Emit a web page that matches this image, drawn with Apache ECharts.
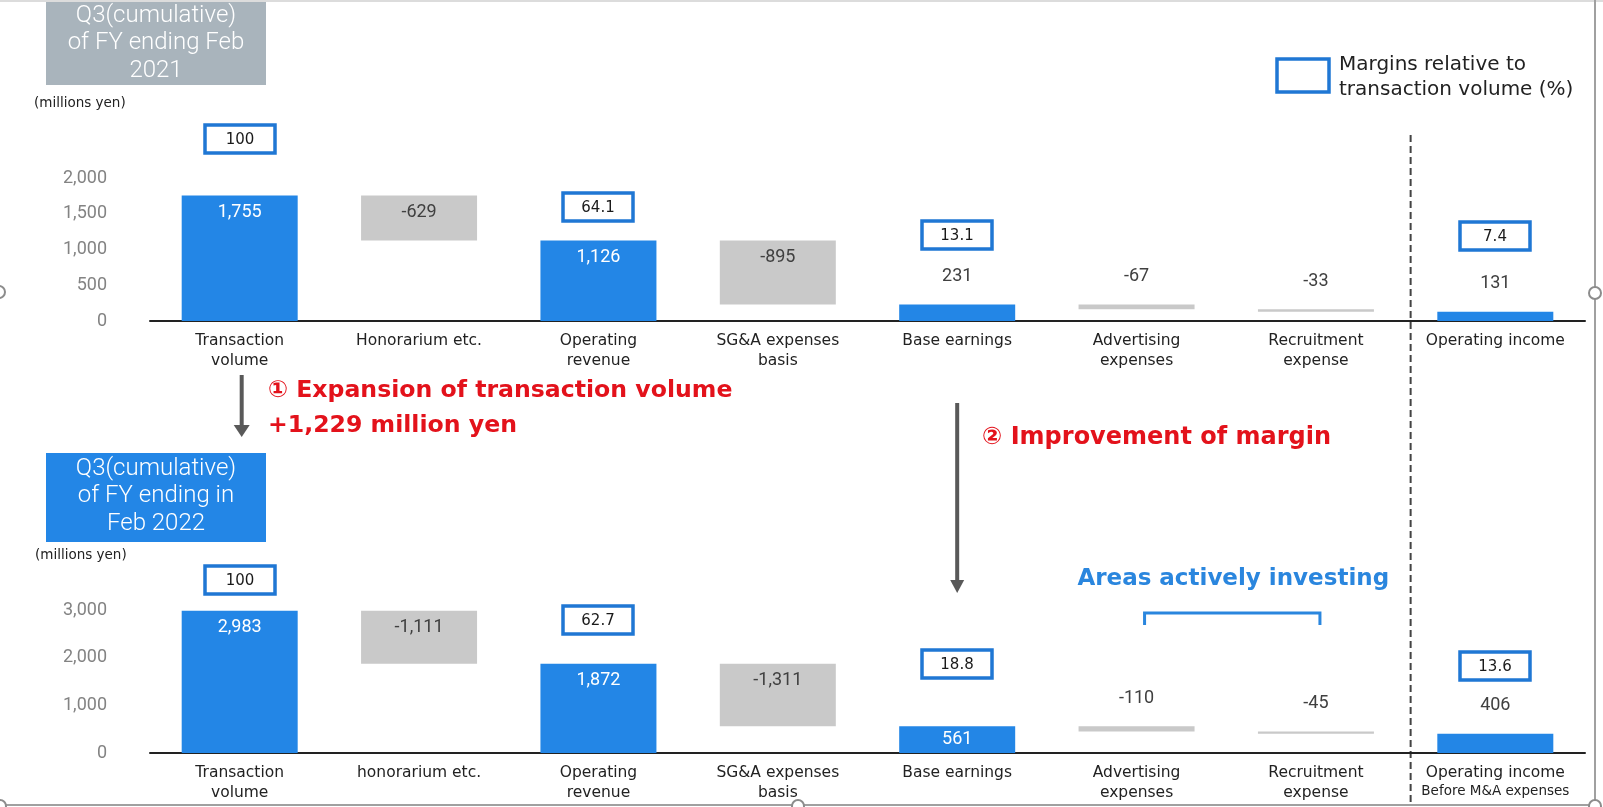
<!DOCTYPE html>
<html><head><meta charset="utf-8">
<script src="https://cdn.jsdelivr.net/npm/echarts@6/dist/echarts.min.js"></script>
<style>html,body{margin:0;padding:0;background:#fff}#c{width:1603px;height:807px}</style>
</head><body><div id="c"></div>
<script>
// ---- data ----
const categoriesTop = ['Transaction\nvolume','Honorarium etc.','Operating\nrevenue','SG&A expenses\nbasis','Base earnings','Advertising\nexpenses','Recruitment\nexpense','Operating income'];
const categoriesBottom = ['Transaction\nvolume','honorarium etc.','Operating\nrevenue','SG&A expenses\nbasis','Base earnings','Advertising\nexpenses','Recruitment\nexpense','{a|Operating income}\n{s|Before M&A expenses}'];
const valuesTop = [1755, -629, 1126, -895, 231, -67, -33, 131];
const valuesBottom = [2983, -1111, 1872, -1311, 561, -110, -45, 406];
const isTotal = [true, false, true, false, true, false, false, true];
const marginsTop = [100, null, 64.1, null, 13.1, null, null, 7.4];
const marginsBottom = [100, null, 62.7, null, 18.8, null, null, 13.6];
const yTicksTop = [0, 500, 1000, 1500, 2000];
const yTicksBottom = [0, 1000, 2000, 3000];
const titleTop = 'Q3(cumulative)\nof FY ending Feb\n2021';
const titleBottom = 'Q3(cumulative)\nof FY ending in\nFeb 2022';
const unitText = '(millions yen)';
const legendText = 'Margins relative to\ntransaction volume (%)';
const note1 = '\u2460 Expansion of transaction volume\n+1,229 million yen';
const note2 = '\u2461 Improvement of margin';
const note3 = 'Areas actively investing';

// ---- styles / layout ----
const BLUE = '#2386e6', GRAY = '#c9c9c9', BOXBLUE = '#1f77d4', RED = '#e3121b', LBLUE = '#2a86de';
const placeTop = ['insideTop','insideTop','insideTop','insideTop','top','top','top','top'];
const placeBottom = ['insideTop','insideTop','insideTop','insideTop','inside','top','top','top'];
const liftTop = [57, 0, 33, 0, 69, 0, 0, 76];
const liftBottom = [31, 0, 44, 0, 62, 0, 0, 68];

function waterfall(values) {
  let run = 0; const base = [], height = [], top = [];
  values.forEach((v, i) => {
    if (isTotal[i]) { base.push(0); height.push(v); run = v; }
    else { run += v; base.push(run); height.push(-v); }
    top.push(base[i] + height[i]);
  });
  return { base, height, top };
}
const fmt = v => v.toLocaleString('en-US');

function buildSeries(g, values, place) {
  const wf = waterfall(values);
  return [
    { type: 'bar', xAxisIndex: g, yAxisIndex: g, stack: 's' + g, barWidth: 116, silent: true,
      itemStyle: { color: 'transparent' }, data: wf.base },
    { type: 'bar', xAxisIndex: g, yAxisIndex: g, stack: 's' + g, barWidth: 116, silent: true,
      data: wf.height.map((h, i) => ({
        value: h,
        itemStyle: { color: isTotal[i] ? BLUE : GRAY },
        label: {
          show: true, position: place[i],
          distance: place[i] === 'top' ? 19 : (place[i] === 'insideTop' ? 8 : 0),
          color: (place[i] !== 'top' && isTotal[i]) ? '#ffffff' : '#404040',
          textBorderWidth: 0,
          fontFamily: 'Roboto', fontSize: 18,
          formatter: fmt(values[i])
        }
      })) }
  ];
}

function xAxis(g, cats) {
  return { type: 'category', gridIndex: g, data: cats,
    axisLine: { lineStyle: { color: '#222', width: 2 } }, axisTick: { show: false },
    axisLabel: { interval: 0, margin: 10, fontFamily: 'DejaVu Sans', fontSize: 15.5, lineHeight: 20, color: '#222',
      rich: { a: { fontFamily: 'DejaVu Sans', fontSize: 15.5, lineHeight: 19, color: '#222' },
              s: { fontFamily: 'DejaVu Sans', fontSize: 13.5, lineHeight: 18, color: '#222' } } } };
}
function yAxis(g, ticks) {
  return { type: 'value', gridIndex: g, min: ticks[0], max: ticks[ticks.length - 1], interval: ticks[1] - ticks[0],
    splitLine: { show: false }, axisLine: { show: false }, axisTick: { show: false },
    axisLabel: { margin: 43, fontFamily: 'Roboto', fontSize: 18, color: '#838383', formatter: v => fmt(v) } };
}

const chart = echarts.init(document.getElementById('c'), null, { renderer: 'canvas' });
const option = {
  animation: false,
  backgroundColor: '#fff',
  grid: [
    { left: 150, right: 18, top: 178, height: 143 },
    { left: 150, right: 18, top: 610, height: 143 }
  ],
  xAxis: [xAxis(0, categoriesTop), xAxis(1, categoriesBottom)],
  yAxis: [yAxis(0, yTicksTop), yAxis(1, yTicksBottom)],
  series: [].concat(
    buildSeries(0, valuesTop, placeTop),
    buildSeries(1, valuesBottom, placeBottom)
  )
};
chart.setOption(option);

// margin boxes placed above each total bar via the chart's own scales
function marginBoxes(g, values, margins, lifts) {
  const wf = waterfall(values);
  const out = [];
  margins.forEach((m, i) => {
    if (m == null) return;
    const p = chart.convertToPixel({ gridIndex: g }, [i, wf.top[i]]);
    const cxp = Math.round(p[0]), cyp = Math.round(p[1] - lifts[i]);
    out.push({ type: 'rect', z: 10, shape: { x: cxp - 35, y: cyp - 14, width: 70, height: 28 },
      style: { fill: '#fff', stroke: BOXBLUE, lineWidth: 3.5 }, silent: true });
    out.push({ type: 'text', z: 11, style: { text: String(m), x: cxp, y: cyp + 1, textAlign: 'center', textVerticalAlign: 'middle',
      fontFamily: 'DejaVu Sans', fontSize: 15, fill: '#1a1a1a' }, silent: true });
  });
  return out;
}

const cx = i => chart.convertToPixel({ gridIndex: 0 }, [i, 0])[0];
const x0 = cx(0), x4 = cx(4), x5 = cx(5), x6 = cx(6), x7 = cx(7);
const dashX = (x6 + x7) / 2 + 5;
const ARROW = '#595959';
function arrow(x, y1, y2, headW, headH) {
  return [
    { type: 'line', shape: { x1: x, y1: y1, x2: x, y2: y2 - headH + 1 }, style: { stroke: ARROW, lineWidth: 4 }, silent: true },
    { type: 'polygon', shape: { points: [[x - headW / 2, y2 - headH], [x + headW / 2, y2 - headH], [x, y2]] }, style: { fill: ARROW }, silent: true }
  ];
}
function handle(x, y) {
  return { type: 'circle', shape: { cx: x, cy: y, r: 6 }, style: { fill: '#fff', stroke: '#8c8c8c', lineWidth: 2 }, silent: true, z: 100 };
}
function titleBox(x, y, w, h, color, text, cy) {
  return [
    { type: 'rect', shape: { x: x, y: y, width: w, height: h }, style: { fill: color }, silent: true },
    { type: 'text', style: { text: text, x: x + w / 2, y: cy, textAlign: 'center', textVerticalAlign: 'middle',
      fontFamily: 'Roboto', fontWeight: 300, fontSize: 24, lineHeight: 27.5, fill: '#fff' }, silent: true }
  ];
}

const graphics = [].concat(
  [{ type: 'rect', shape: { x: 0, y: 0, width: 1603, height: 2 }, style: { fill: '#dcdcdc' }, silent: true }],
  titleBox(46, 2, 220, 83, '#a9b4bc', titleTop, 43),
  titleBox(46, 453, 220, 89, BLUE, titleBottom, 496),
  marginBoxes(0, valuesTop, marginsTop, liftTop),
  marginBoxes(1, valuesBottom, marginsBottom, liftBottom),
  [
    { type: 'text', style: { text: unitText, x: 34, y: 103, textVerticalAlign: 'middle', fontFamily: 'DejaVu Sans', fontSize: 13.5, fill: '#222' }, silent: true },
    { type: 'text', style: { text: unitText, x: 35, y: 555, textVerticalAlign: 'middle', fontFamily: 'DejaVu Sans', fontSize: 13.5, fill: '#222' }, silent: true },
    { type: 'rect', shape: { x: 1277, y: 59, width: 52, height: 33 }, style: { fill: '#fff', stroke: BOXBLUE, lineWidth: 3.5 }, silent: true },
    { type: 'text', style: { text: legendText, x: 1339, y: 77.5, textVerticalAlign: 'middle', fontFamily: 'DejaVu Sans', fontSize: 20, lineHeight: 25, fill: '#222' }, silent: true },
    { type: 'line', shape: { x1: dashX, y1: 135, x2: dashX, y2: 805 }, style: { stroke: '#444', lineWidth: 2, lineDash: [7, 4] }, silent: true },
    { type: 'text', style: { text: note1, x: 268, y: 408, textVerticalAlign: 'middle', fontFamily: 'DejaVu Sans', fontWeight: 'bold', fontSize: 23.6, lineHeight: 35, fill: RED }, silent: true },
    { type: 'text', style: { text: note2, x: 982, y: 438, textVerticalAlign: 'middle', fontFamily: 'DejaVu Sans', fontWeight: 'bold', fontSize: 24, fill: RED }, silent: true },
    { type: 'text', style: { text: note3, x: (x5 + x6) / 2 + 7, y: 579, textAlign: 'center', textVerticalAlign: 'middle', fontFamily: 'DejaVu Sans', fontWeight: 'bold', fontSize: 23, fill: LBLUE }, silent: true },
    { type: 'polyline', shape: { points: [[x5 + 8, 625], [x5 + 8, 613], [x6 + 4, 613], [x6 + 4, 625]] }, style: { stroke: LBLUE, lineWidth: 3, fill: null }, silent: true },
    { type: 'line', shape: { x1: 1595, y1: 0, x2: 1595, y2: 807 }, style: { stroke: '#a0a0a0', lineWidth: 2 }, silent: true },
    { type: 'line', shape: { x1: 0, y1: 805, x2: 1596, y2: 805 }, style: { stroke: '#a0a0a0', lineWidth: 2 }, silent: true }
  ],
  arrow(x0 + 2, 375, 437, 16, 12),
  arrow(x4, 403, 593, 14, 13),
  [handle(-1, 292), handle(1595, 293), handle(798, 806), handle(0, 806), handle(1595, 806)]
);
chart.setOption({ graphic: graphics });
</script>
</body></html>
